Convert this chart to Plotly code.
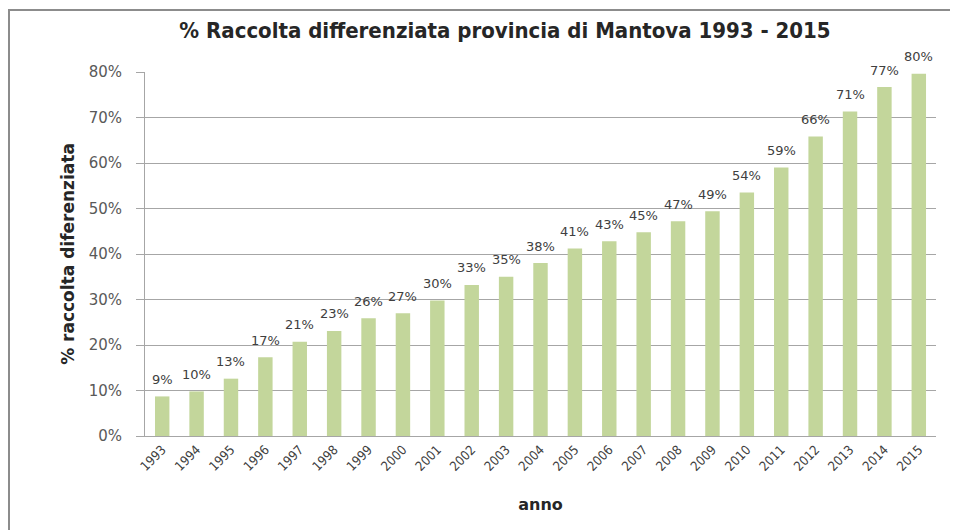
import plotly.graph_objects as go

years = [str(y) for y in range(1993, 2016)]
values = [0.087, 0.098, 0.126, 0.173, 0.207, 0.231, 0.259, 0.270, 0.298, 0.332,
          0.350, 0.380, 0.412, 0.428, 0.448, 0.472, 0.494, 0.535, 0.590, 0.658,
          0.713, 0.767, 0.796]
y_ticks = [0, 0.1, 0.2, 0.3, 0.4, 0.5, 0.6, 0.7, 0.8]
y_tick_labels = ["0%", "10%", "20%", "30%", "40%", "50%", "60%", "70%", "80%"]

# page body has an 8px margin, so the figure is placed at (8, 8)
OFF = 8
W, H = 958 - OFF, 530 - OFF
L, R, T, B = 145 - OFF, 22, 72 - OFF, 94
pw, ph = W - L - R, H - T - B

def px_x(p):
    return (p - OFF - L) / pw

def px_y(p):
    return (H - B - (p - OFF)) / ph

fig = go.Figure()
fig.add_trace(go.Bar(
    x=years, y=values,
    marker=dict(color="#C3D69B", line=dict(width=0)),
    cliponaxis=False,
    hoverinfo="skip",
))

# data labels: on a category axis the annotation x is the category index
for i, v in enumerate(values):
    fig.add_annotation(
        x=i, y=v, xref="x", yref="y",
        text=f"{v:.0%}", showarrow=False,
        yanchor="middle", yshift=17,
        font=dict(family="DejaVu Sans", size=13, color="#404040"),
    )

fig.update_layout(
    width=W, height=H,
    margin=dict(l=L, r=R, t=T, b=B, autoexpand=False),
    paper_bgcolor="white", plot_bgcolor="white",
    bargap=0.58,
    showlegend=False,
    title=dict(
        text="<b>% Raccolta differenziata provincia di Mantova 1993 - 2015</b>",
        x=(505 - OFF) / W, xref="container", xanchor="center",
        y=1 - (30 - OFF) / H, yref="container", yanchor="middle",
        font=dict(family="DejaVu Sans Condensed", size=22, color="#262626"),
    ),
    xaxis=dict(
        type="category",
        categoryorder="array", categoryarray=years,
        title=dict(text="<b>anno</b>", font=dict(family="DejaVu Sans", size=16, color="#262626"), standoff=25),
        tickangle=-45,
        tickfont=dict(family="DejaVu Sans Condensed", size=13, color="#404040"),
        showline=True, linecolor="#A6A6A6", linewidth=1,
        showgrid=False, ticks="",
        automargin=False,
    ),
    yaxis=dict(
        title=dict(text="<b>% raccolta diferenziata</b>", font=dict(family="DejaVu Sans", size=17, color="#262626"), standoff=9),
        range=[0, 0.8],
        tickvals=y_ticks, ticktext=y_tick_labels,
        tickfont=dict(family="DejaVu Sans", size=15, color="#595959"),
        showline=True, linecolor="#A6A6A6", linewidth=1,
        showgrid=True, gridcolor="#A6A6A6", gridwidth=1,
        ticks="outside", ticklen=8, tickcolor="#A6A6A6",
        ticklabelstandoff=11,
        zeroline=False,
        automargin=False,
    ),
    shapes=[
        dict(type="line", xref="paper", yref="paper",
             x0=px_x(9), x1=px_x(9), y0=px_y(10), y1=px_y(540),
             line=dict(color="#8C8C8C", width=2)),
        dict(type="line", xref="paper", yref="paper",
             x0=px_x(8), x1=px_x(970), y0=px_y(10), y1=px_y(10),
             line=dict(color="#8C8C8C", width=2)),
    ],
)

fig.write_html("out.html")
